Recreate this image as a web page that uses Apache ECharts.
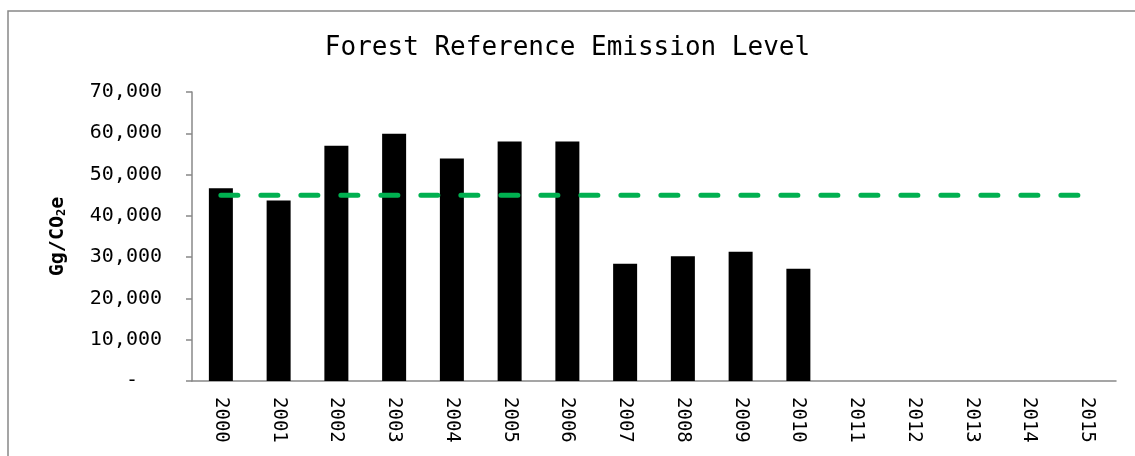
<!DOCTYPE html>
<html>
<head>
<meta charset="utf-8">
<script src="https://cdn.jsdelivr.net/npm/echarts@6/dist/echarts.min.js"></script>
<style>
html,body{margin:0;padding:0;background:#fff;}
#chart{width:1135px;height:456px;}
</style>
</head>
<body>
<div id="chart"></div>
<script>
var years = ['2000','2001','2002','2003','2004','2005','2006','2007','2008','2009','2010','2011','2012','2013','2014','2015'];
var emissions = [46700, 43700, 57000, 59900, 53900, 58000, 58000, 28400, 30200, 31300, 27200, null, null, null, null, null];
var frel = [45000,45000,45000,45000,45000,45000,45000,45000,45000,45000,45000,45000,45000,45000,45000,45000];
var yTicks = [0, 10000, 20000, 30000, 40000, 50000, 60000, 70000];

var mono = '"DejaVu Sans Mono", "Liberation Mono", monospace';
var chart = echarts.init(document.getElementById('chart'));
chart.setOption({
  animation: false,
  backgroundColor: '#fff',
  graphic: [{
    type: 'rect', silent: true, z: -1,
    shape: {x: 8, y: 11, width: 1300, height: 600},
    style: {fill: 'none', stroke: '#888', lineWidth: 1.5}
  }],
  title: {
    text: 'Forest Reference Emission Level',
    left: 'center', top: 30,
    textStyle: {fontFamily: mono, fontSize: 26, fontWeight: 'normal', color: '#000'}
  },
  grid: {left: 192, right: 19, top: 92, bottom: 75},
  xAxis: {
    type: 'category',
    data: years,
    axisLine: {lineStyle: {color: '#888', width: 1.5}},
    axisTick: {show: false},
    axisLabel: {rotate: -90, fontFamily: mono, fontSize: 19, color: '#000', margin: 16}
  },
  yAxis: {
    type: 'value',
    min: yTicks[0], max: yTicks[yTicks.length - 1], interval: 10000,
    splitLine: {show: false},
    axisLine: {show: true, lineStyle: {color: '#888', width: 1.5}},
    axisTick: {show: true, length: 6, lineStyle: {color: '#888', width: 1.5}},
    axisLabel: {
      fontFamily: mono, fontSize: 20, color: '#000', margin: 30,
      formatter: function (v) { return v === 0 ? '-  ' : v.toLocaleString('en-US'); }
    },
    name: 'Gg/CO{s|2}e',
    nameLocation: 'middle',
    nameGap: 124,
    nameRotate: 90,
    nameTextStyle: {
      fontFamily: mono, fontSize: 20, fontWeight: 'bold', color: '#000',
      rich: {s: {fontFamily: mono, fontSize: 12, fontWeight: 'bold', color: '#000', verticalAlign: 'bottom', padding: [9, 0, 0, 0]}}
    }
  },
  series: [{
    type: 'bar',
    data: emissions,
    barWidth: 24,
    itemStyle: {color: '#000'}
  }, {
    type: 'line',
    data: frel,
    symbol: 'none',
    z: 5,
    lineStyle: {color: '#00B050', width: 5, type: [17, 23], cap: 'round'}
  }]
});
</script>
</body>
</html>
